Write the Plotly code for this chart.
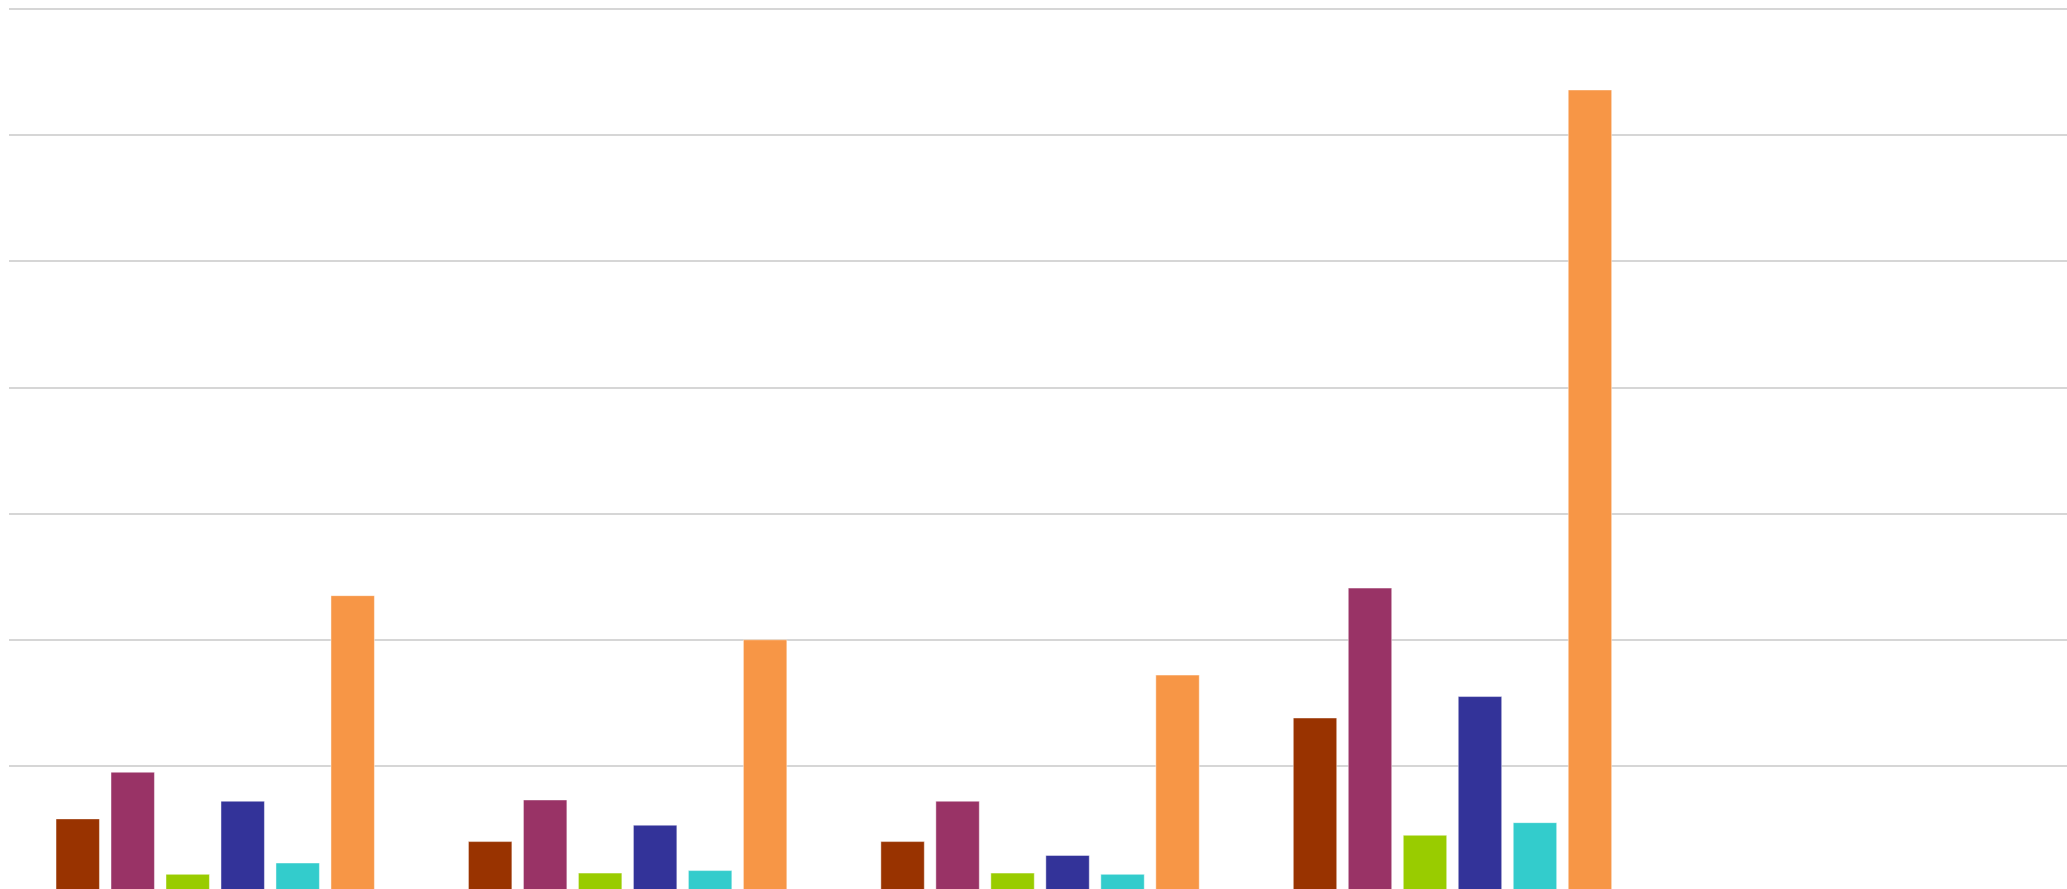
import plotly.graph_objects as go

categories = ["Group 1", "Group 2", "Group 3", "Group 4", "Group 5"]
series_names = ["Series 1", "Series 2", "Series 3", "Series 4", "Series 5", "Series 6"]
series_colors = ["#993300", "#993366", "#99CC00", "#333399", "#33CCCC", "#F79646"]

s1 = [0.58, 0.40, 0.40, 1.38, None]
s2 = [0.95, 0.73, 0.72, 2.41, None]
s3 = [0.14, 0.15, 0.15, 0.45, None]
s4 = [0.72, 0.53, 0.29, 1.55, None]
s5 = [0.23, 0.17, 0.14, 0.55, None]
s6 = [2.35, 2.00, 1.72, 6.36, None]
series_values = [s1, s2, s3, s4, s5, s6]

fig = go.Figure()
for name, color, vals in zip(series_names, series_colors, series_values):
    fig.add_trace(go.Bar(
        x=categories, y=vals, name=name,
        marker=dict(color=color, line=dict(color="rgba(255,255,255,0.45)", width=1)),
    ))

fig.update_layout(
    width=2067, height=889,
    margin=dict(l=9, r=0, t=8, b=0),
    paper_bgcolor="white", plot_bgcolor="white",
    barmode="group", bargap=0.2, bargroupgap=0.21,
    showlegend=False,
    xaxis=dict(type="category", categoryarray=categories, range=[-0.5, 4.49],
               showticklabels=False, showgrid=False, zeroline=False, showline=False, ticks=""),
    yaxis=dict(range=[0.024, 7.01], dtick=1, tick0=0, showticklabels=False,
               showgrid=True, gridcolor="#d6d6d6", gridwidth=2, zeroline=False, showline=False, ticks=""),
)

fig.write_html("out.html")
